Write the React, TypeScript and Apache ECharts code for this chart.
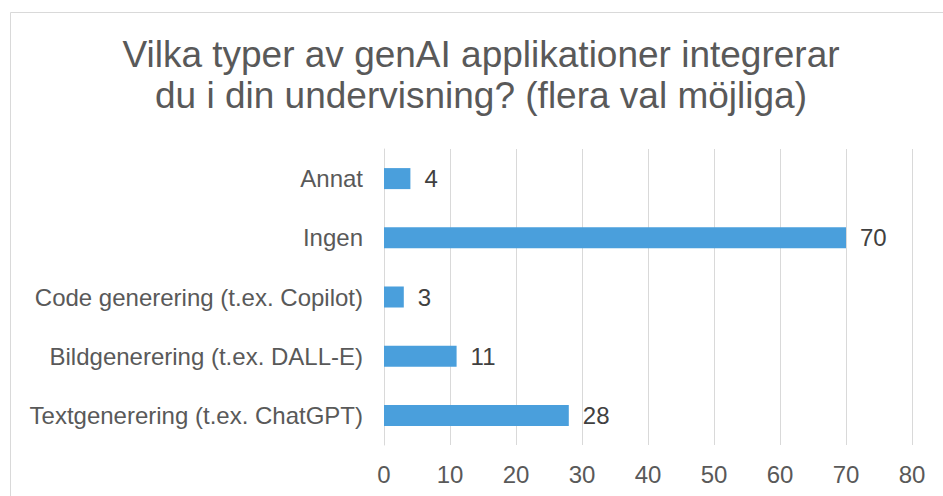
import React, { useEffect, useRef } from "react";
import * as echarts from "echarts";

const titleLines = [
  "Vilka typer av genAI applikationer integrerar",
  "du i din undervisning? (flera val möjliga)",
];
const categories = [
  "Textgenerering (t.ex. ChatGPT)",
  "Bildgenerering (t.ex. DALL-E)",
  "Code generering (t.ex. Copilot)",
  "Ingen",
  "Annat",
];
const values = [28, 11, 3, 70, 4];
const xMin = 0;
const xMax = 80;
const xInterval = 10;

export default function App() {
  const ref = useRef<HTMLDivElement>(null);
  useEffect(() => {
    if (!ref.current) return;
    const chart = echarts.init(ref.current, undefined, { renderer: "svg" });
    const font = "'Liberation Sans', Arial, sans-serif";
    chart.setOption({
      animation: false,
      backgroundColor: "#ffffff",
      textStyle: { fontFamily: font },
      graphic: [
        {
          type: "rect",
          shape: { x: 10.5, y: 12.5, width: 1000, height: 1000 },
          style: { fill: "none", stroke: "#d9d9d9", lineWidth: 1 },
          silent: true,
        },
        {
          type: "text",
          x: 481,
          y: 54,
          style: {
            text: titleLines[0],
            fontSize: 37,
            fontFamily: font,
            fill: "#595959",
            align: "center",
            verticalAlign: "middle",
          },
        },
        {
          type: "text",
          x: 481,
          y: 95.5,
          style: {
            text: titleLines[1],
            fontSize: 37,
            fontFamily: font,
            fill: "#595959",
            align: "center",
            verticalAlign: "middle",
          },
        },
      ],
      grid: { left: 384, right: 31, top: 149, bottom: 51, containLabel: false },
      xAxis: {
        type: "value",
        min: xMin,
        max: xMax,
        interval: xInterval,
        axisLine: { show: false },
        axisTick: { show: false },
        splitLine: { show: true, lineStyle: { color: "#d9d9d9", width: 1 } },
        axisLabel: {
          color: "#595959",
          fontSize: 24,
          fontFamily: font,
          margin: 17,
        },
      },
      yAxis: {
        type: "category",
        data: categories,
        axisLine: { show: true, lineStyle: { color: "#d9d9d9", width: 1 } },
        axisTick: { show: false },
        axisLabel: {
          color: "#595959",
          fontSize: 24,
          fontFamily: font,
          margin: 21,
        },
      },
      series: [
        {
          type: "bar",
          data: values,
          barCategoryGap: "64.5%",
          itemStyle: { color: "#4a9fdc" },
          label: {
            show: true,
            position: "right",
            distance: 14,
            color: "#404040",
            fontSize: 24,
            fontFamily: font,
          },
        },
      ],
    });
    return () => chart.dispose();
  }, []);
  return (
    <div
      ref={ref}
      style={{ position: "fixed", left: 0, top: 0, width: 943, height: 496 }}
    />
  );
}
